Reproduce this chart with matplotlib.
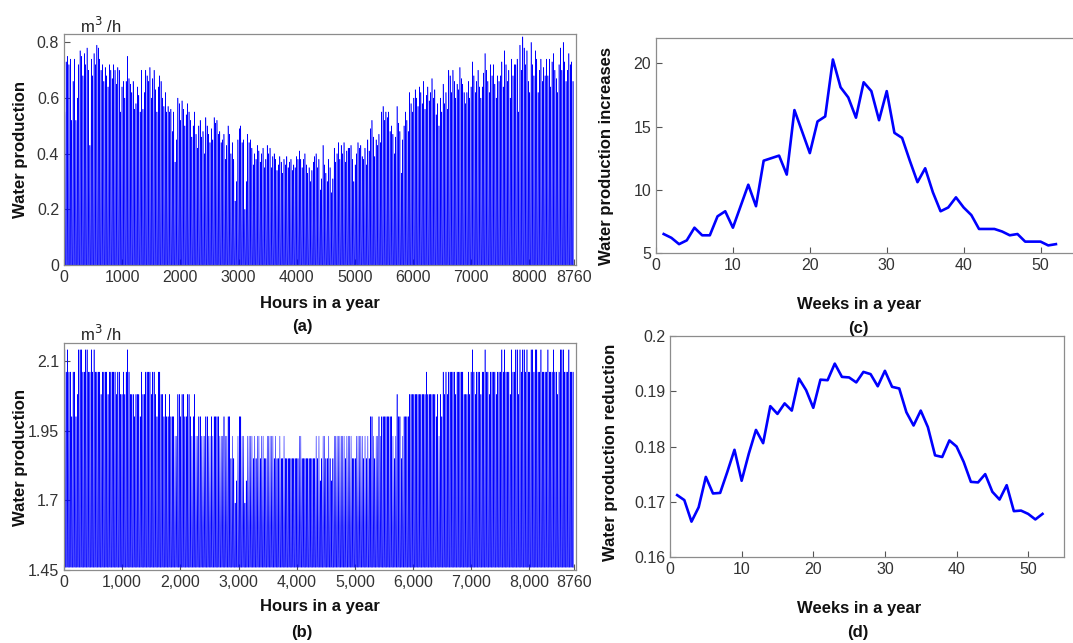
import matplotlib
matplotlib.use('Agg')
import matplotlib.pyplot as plt
import numpy as np

plt.rcParams['font.family'] = ['Liberation Sans', 'DejaVu Sans']

# daily peak of the hourly water production, panel (a), m3/h
peaks_a = [
    0.55, 0.73, 0.75, 0.72, 0.74, 0.52, 0.66, 0.74, 0.52, 0.60, 0.72, 0.77, 0.75, 0.68,
    0.76, 0.72, 0.78, 0.70, 0.43, 0.74, 0.68, 0.76, 0.72, 0.79, 0.78, 0.74, 0.70, 0.72, 0.66, 0.71, 0.68, 0.64, 0.72,
    0.70, 0.67, 0.72, 0.70, 0.65, 0.71, 0.70, 0.55, 0.64, 0.66, 0.60, 0.66, 0.75, 0.67, 0.65, 0.62, 0.66, 0.56, 0.58, 0.64, 0.61, 0.55,
    0.70, 0.56, 0.62, 0.70, 0.68, 0.66, 0.71, 0.60, 0.67, 0.70, 0.63, 0.55, 0.64, 0.68, 0.66, 0.60, 0.57, 0.62, 0.55,
    0.57, 0.55, 0.56, 0.48, 0.55, 0.37, 0.45, 0.60, 0.58, 0.52, 0.59, 0.56, 0.50, 0.54,
    0.58, 0.55, 0.52, 0.46, 0.50, 0.55, 0.47, 0.42, 0.50, 0.52, 0.46, 0.48, 0.40, 0.53, 0.50, 0.47, 0.44, 0.49, 0.45,
    0.53, 0.51, 0.52, 0.47, 0.48, 0.44, 0.45, 0.47, 0.38, 0.43, 0.50, 0.47, 0.40, 0.44, 0.38, 0.23, 0.30, 0.45, 0.49,
    0.50, 0.44, 0.45, 0.20, 0.30, 0.47, 0.44, 0.45, 0.42, 0.36, 0.40, 0.38, 0.43, 0.41, 0.37, 0.40, 0.42, 0.35, 0.38,
    0.43, 0.40, 0.42, 0.35, 0.39, 0.40, 0.38, 0.34, 0.36, 0.39, 0.37, 0.33, 0.38, 0.36, 0.39, 0.35, 0.37, 0.38, 0.34, 0.36, 0.35, 0.39, 0.38, 0.41,
    0.38, 0.35, 0.38, 0.40, 0.36, 0.33, 0.35, 0.30, 0.34, 0.37, 0.39,
    0.40, 0.35, 0.38, 0.27, 0.31, 0.43, 0.36, 0.33, 0.30, 0.38, 0.35, 0.26, 0.31, 0.42, 0.37, 0.40, 0.44, 0.38, 0.43, 0.40, 0.44, 0.37, 0.41, 0.42,
    0.42, 0.43, 0.38, 0.30, 0.36, 0.40, 0.44, 0.42, 0.43, 0.39, 0.38, 0.42, 0.36, 0.45, 0.41, 0.49, 0.52, 0.46, 0.39, 0.45, 0.43, 0.47, 0.44,
    0.55, 0.57, 0.52, 0.55, 0.53, 0.55, 0.48, 0.50, 0.47, 0.40, 0.46, 0.57, 0.51, 0.48, 0.33, 0.45, 0.50, 0.55, 0.52, 0.48, 0.62, 0.58, 0.55, 0.60,
    0.63, 0.60, 0.57, 0.64, 0.62, 0.58, 0.66, 0.56, 0.61, 0.64, 0.59, 0.62, 0.67, 0.60, 0.63, 0.54, 0.58, 0.50, 0.60, 0.55, 0.65, 0.58, 0.62, 0.56,
    0.70, 0.68, 0.62, 0.70, 0.66, 0.60, 0.65, 0.63, 0.71, 0.67, 0.65, 0.62, 0.58, 0.62, 0.66, 0.60, 0.64, 0.73, 0.68, 0.62, 0.66, 0.70, 0.64, 0.60,
    0.64, 0.69, 0.76, 0.70, 0.66, 0.62, 0.72, 0.68, 0.72, 0.65, 0.60, 0.68, 0.66, 0.68, 0.73, 0.64, 0.77, 0.72, 0.66, 0.70, 0.60, 0.74, 0.68, 0.72,
    0.72, 0.74, 0.55, 0.79, 0.70, 0.82, 0.78, 0.72, 0.77, 0.66, 0.62, 0.80, 0.72, 0.68, 0.77, 0.74, 0.62, 0.70, 0.74, 0.66, 0.71, 0.68, 0.74,
    0.68, 0.74, 0.64, 0.73, 0.76, 0.70, 0.67, 0.62, 0.72, 0.78, 0.70, 0.80, 0.73, 0.66, 0.70, 0.76, 0.72, 0.73, 0.66,
]

# panel (b): discrete production levels and the daily top level index
levels_b = [1.46, 1.54, 1.62, 1.69, 1.77, 1.85, 1.93, 2.00, 2.08, 2.16, 2.24]
peak_level_b = [
    10, 9, 10, 9, 9, 7, 9, 9, 7, 8, 10, 10, 10, 9,
    9, 10, 10, 9, 9, 10, 9, 10, 9, 9, 9, 9, 8, 9, 9, 9, 9, 8, 9,
    9, 9, 9, 9, 8, 9, 9, 8, 8, 9, 8, 9, 10, 9, 8, 8, 8, 7, 8, 8, 8, 7,
    9, 8, 8, 9, 9, 9, 9, 8, 9, 9, 8, 7, 9, 9, 8, 8, 7, 8, 7,
    7, 8, 7, 7, 7, 6, 6, 8, 8, 7, 8, 8, 7, 7,
    8, 8, 7, 6, 7, 8, 6, 6, 7, 7, 6, 6, 6, 7, 7, 6, 6, 7, 6,
    7, 7, 7, 7, 6, 6, 6, 7, 6, 6, 7, 7, 5, 6, 5, 3, 4, 6, 7,
    7, 6, 6, 3, 4, 6, 6, 6, 6, 5, 6, 5, 6, 6, 5, 6, 6, 5, 5,
    6, 6, 6, 6, 6, 5, 6, 5, 5, 6, 5, 5, 6, 5, 5, 5, 5, 5, 5, 5, 5, 5, 5, 6,
    6, 5, 5, 5, 5, 5, 5, 5, 5, 5, 5,
    6, 5, 6, 4, 5, 6, 6, 5, 5, 6, 5, 4, 5, 6, 6, 6, 6, 6, 6, 6, 6, 5, 6, 6,
    6, 6, 5, 5, 5, 6, 6, 6, 6, 6, 5, 6, 5, 6, 5, 7, 7, 6, 5, 6, 6, 7, 6,
    7, 7, 7, 7, 7, 7, 7, 7, 6, 5, 6, 8, 7, 7, 5, 6, 7, 7, 7, 7, 8, 8, 8, 8,
    8, 8, 8, 8, 8, 8, 8, 8, 9, 8, 8, 8, 8, 8, 8, 7, 8, 6, 8, 7, 9, 8, 9, 8,
    9, 9, 9, 9, 9, 8, 9, 9, 9, 9, 9, 8, 8, 8, 9, 8, 9, 10, 9, 8, 9, 9, 9, 8,
    9, 9, 10, 9, 9, 8, 9, 9, 9, 9, 8, 9, 9, 9, 10, 9, 10, 9, 9, 9, 8, 10, 9, 9,
    10, 10, 8, 10, 9, 10, 10, 9, 10, 9, 9, 10, 10, 9, 10, 10, 9, 9, 10, 9, 9, 9, 9,
    10, 9, 9, 9, 10, 9, 9, 8, 9, 10, 10, 10, 9, 9, 9, 10, 9, 9, 9,
]

# shape of one day (fraction of the daily peak, hours 0..23)
day_profile = [0, 0, 0, 0, 0, 0, 0, 0.15, 0.4, 0.65, 0.85, 0.97,
               1.0, 0.97, 0.85, 0.65, 0.4, 0.15, 0, 0, 0, 0, 0, 0]

weeks = list(range(1, 53))
increase_c = [6.5, 6.2, 5.7, 6.0, 7.0, 6.4, 6.4, 7.9, 8.3, 7.0,
              8.7, 10.4, 8.7, 12.3, 12.5, 12.7, 11.2, 16.3, 14.6, 12.9,
              15.4, 15.8, 20.3, 18.1, 17.3, 15.7, 18.5, 17.8, 15.5, 17.8,
              14.5, 14.1, 12.3, 10.6, 11.7, 9.8, 8.3, 8.6, 9.4, 8.6,
              8.0, 6.9, 6.9, 6.9, 6.7, 6.4, 6.5, 5.9, 5.9, 5.9,
              5.6, 5.7]
reduction_d = [0.1712, 0.1703, 0.1664, 0.1690, 0.1745, 0.1715, 0.1716, 0.1754, 0.1794, 0.1738,
               0.1787, 0.1830, 0.1806, 0.1873, 0.1859, 0.1878, 0.1865, 0.1923, 0.1902, 0.1870,
               0.1921, 0.1920, 0.1950, 0.1926, 0.1925, 0.1916, 0.1935, 0.1931, 0.1909, 0.1937,
               0.1908, 0.1905, 0.1862, 0.1838, 0.1865, 0.1835, 0.1784, 0.1781, 0.1811, 0.1800,
               0.1772, 0.1736, 0.1735, 0.1750, 0.1718, 0.1704, 0.1730, 0.1683, 0.1684, 0.1678,
               0.1668, 0.1678]

ndays = len(peaks_a)
hours = np.arange(1, ndays * 24 + 1)
prof = np.tile(day_profile, ndays)
water_a = np.repeat(peaks_a, 24) * prof
idx_b = np.round(np.repeat(peak_level_b, 24) * prof).astype(int)
water_b = np.array(levels_b)[idx_b]

W, H = 1073, 643
fig = plt.figure(figsize=(W / 100, H / 100), dpi=100)

def box(l, r, t, b):
    return fig.add_axes([l / W, 1 - b / H, (r - l) / W, (b - t) / H])

def style(ax):
    for s in ax.spines.values():
        s.set_color('#8c8c8c')
        s.set_linewidth(0.9)
    ax.tick_params(direction='in', length=4, color='#555555', labelcolor='#333333',
                   labelsize=11.5, top=False, right=False)

def label(x, y, s, **kw):
    fig.text(x / W, 1 - y / H, s, ha='center', va='center', fontsize=12,
             fontweight='bold', color='#111111', **kw)

blue = '#0000ff'
hourly_lw = 0.4

ax_a = box(64, 576, 34, 265)
ax_a.plot(hours, water_a, color=blue, lw=hourly_lw)
ax_a.set_xlim(0, 8800)
ax_a.set_ylim(0, 0.83)
ax_a.set_xticks([0, 1000, 2000, 3000, 4000, 5000, 6000, 7000, 8000, 8760])
ax_a.set_yticks([0, 0.2, 0.4, 0.6, 0.8])
ax_a.set_yticklabels(['0', '0.2', '0.4', '0.6', '0.8'])
style(ax_a)

ax_b = box(64, 576, 343, 570)
ax_b.plot(hours, water_b, color=blue, lw=hourly_lw)
ax_b.set_xlim(0, 8800)
ax_b.set_ylim(1.45, 2.264)
ax_b.set_xticks([0, 1000, 2000, 3000, 4000, 5000, 6000, 7000, 8000, 8760])
ax_b.set_xticklabels(['0', '1,000', '2,000', '3,000', '4,000', '5,000',
                      '6,000', '7,000', '8,000', '8760'])
ax_b.set_yticks([1.45, 1.7, 1.95, 2.2])
ax_b.set_yticklabels(['1.45', '1.7', '1.95', '2.1'])
style(ax_b)

ax_c = box(656, 1079, 38, 253)
ax_c.plot(weeks, increase_c, color=blue, lw=1.9)
ax_c.set_xlim(0, 55)
ax_c.set_ylim(5, 22)
ax_c.set_xticks([0, 10, 20, 30, 40, 50])
ax_c.set_yticks([5, 10, 15, 20])
style(ax_c)

ax_d = box(670, 1064, 336, 557)
ax_d.plot(weeks, reduction_d, color=blue, lw=1.9)
ax_d.set_xlim(0, 55)
ax_d.set_ylim(0.16, 0.2)
ax_d.set_xticks([0, 10, 20, 30, 40, 50])
ax_d.set_yticks([0.16, 0.17, 0.18, 0.19, 0.2])
ax_d.set_yticklabels(['0.16', '0.17', '0.18', '0.19', '0.2'])
style(ax_d)

# axis titles, units and panel letters
label(21, 150, 'Water production', rotation=90)
label(21, 457, 'Water production', rotation=90)
label(607, 156, 'Water production increases', rotation=90)
label(610, 452, 'Water production reduction', rotation=90)
label(320, 303, 'Hours in a year')
label(320, 607, 'Hours in a year')
label(859, 305, 'Weeks in a year')
label(859, 608, 'Weeks in a year')
label(302, 326, '(a)')
label(302, 632, '(b)')
label(858, 328, '(c)')
label(858, 632, '(d)')
fig.text(80 / W, 1 - 26 / H, 'm$^3$ /h', fontsize=12, color='#222222', va='center')
fig.text(80 / W, 1 - 334 / H, 'm$^3$ /h', fontsize=12, color='#222222', va='center')

fig.savefig('out.png', dpi=100)
